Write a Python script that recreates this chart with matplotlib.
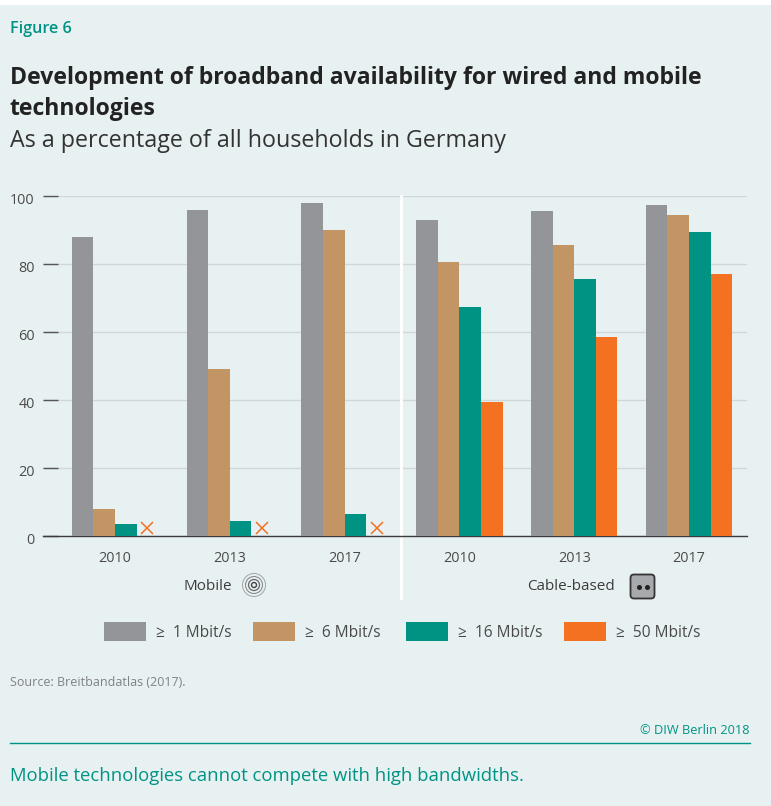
import numpy as np
import matplotlib
matplotlib.use("Agg")
import matplotlib.pyplot as plt
from matplotlib.patches import Rectangle, Circle, FancyBboxPatch
from matplotlib.transforms import ScaledTranslation

plt.rcParams["font.family"] = ["Open Sans", "DejaVu Sans"]

years = ["2010", "2013", "2017", "2010", "2013", "2017"]
speed_labels = ["≥  1 Mbit/s", "≥  6 Mbit/s", "≥  16 Mbit/s", "≥  50 Mbit/s"]
gray_vals = [88, 96, 98, 93, 95.5, 97.5]
tan_vals = [8, 49, 90, 80.5, 85.5, 94.5]
teal_vals = [3.5, 4.5, 6.5, 67.5, 75.5, 89.5]
orange_vals = [np.nan, np.nan, np.nan, 39.5, 58.5, 77]
colors = ["#939598", "#c49564", "#009384", "#f47121"]
yticks = [0, 20, 40, 60, 80, 100]

BG = "#e8f1f2"
TEAL = "#009384"
W, H = 771, 806

fig = plt.figure(figsize=(W / 100, H / 100), dpi=100, facecolor=BG)

# overlay in pixel coordinates for the page furniture
page = fig.add_axes([0, 0, 1, 1], zorder=3)
page.set_xlim(0, W)
page.set_ylim(H, 0)
page.axis("off")
page.patch.set_alpha(0)

ax = fig.add_axes([43 / W, 1 - 536 / H, (747 - 43) / W, 340 / H], zorder=1)
ax.patch.set_alpha(0)

x = np.arange(6)
width = 0.188
series = [gray_vals, tan_vals, teal_vals, orange_vals]
for i, vals in enumerate(series):
    ax.bar(x + (i - 1.5) * width, vals, width, color=colors[i], zorder=3, linewidth=0)

# no data for mobile at 50 Mbit/s
ax.plot(x[:3] + 1.5 * width, [2.4] * 3, "x", color=colors[3], markersize=9,
        markeredgewidth=1.1, zorder=3, clip_on=False)

ax.set_xlim(-0.627, 5.505)
ax.set_ylim(0, 100)
ax.set_yticks(yticks)
ax.set_xticks(x)
ax.set_xticklabels(years)
ax.grid(axis="y", color="#d0d7d9", linewidth=1.0, zorder=0)
ax.set_axisbelow(True)
for side in ["top", "left", "right"]:
    ax.spines[side].set_visible(False)
ax.spines["bottom"].set_color("#3c3c3c")
ax.spines["bottom"].set_linewidth(1.0)
ax.tick_params(axis="y", direction="in", length=11, width=1.0, color="#555555", pad=6,
               labelsize=10.4, labelcolor="#4a4a4a")
ax.tick_params(axis="x", length=0, pad=11, labelsize=10.4, labelcolor="#4a4a4a")
down = ScaledTranslation(0, -2.5 / 100, fig.dpi_scale_trans)
for lab in ax.get_yticklabels():
    lab.set_transform(lab.get_transform() + down)

# white divider between mobile and cable, the axis line runs over it
ax.axvline(2.495, ymin=-0.182, ymax=1, color="white", linewidth=2, clip_on=False, zorder=1)

# texts
page.add_patch(Rectangle((0, 0), W, 5, color="white", linewidth=0))
page.text(10, 29, "Figure 6", color=TEAL, fontsize=11.6, va="center", weight="semibold")
page.text(10, 78, "Development of broadband availability for wired and mobile",
          color="#222222", fontsize=16.55, weight="bold", va="center")
page.text(10, 109, "technologies", color="#222222", fontsize=16.55, weight="bold", va="center")
page.text(10, 141, "As a percentage of all households in Germany", color="#333333",
          fontsize=16.75, va="center")
page.text(232, 587, "Mobile", color="#3c3c3c", fontsize=11, va="center", ha="right")
page.text(615, 587, "Cable-based", color="#3c3c3c", fontsize=11, va="center", ha="right")

# mobile icon
for r, lw, col in [(11.5, 0.7, "#a0a4a6"), (8.5, 0.8, "#8a8d90"), (5.5, 0.9, "#666666"), (2.5, 1.0, "#444444")]:
    page.add_patch(Circle((254, 585), r, fill=False, edgecolor=col, linewidth=lw))

# cable icon
page.add_patch(FancyBboxPatch((630.5, 574.5), 24, 24, boxstyle="round,pad=0,rounding_size=3.5",
                              facecolor="#a7a9ac", edgecolor="#333333", linewidth=1.3))
page.plot([638.7, 647.3], [586.5, 586.5], "o", color="#222222", markersize=2.6)

# legend
legend_x = [104, 253, 406, 564]
for lx, col, lab in zip(legend_x, colors, speed_labels):
    page.add_patch(Rectangle((lx, 622), 42, 19, facecolor=col, linewidth=0))
    page.text(lx + 52, 633, lab, color="#4a4a4a", fontsize=11.2, va="center")

page.text(10, 683, "Source: Breitbandatlas (2017).", color="#808285", fontsize=9,
          va="center")
page.text(750, 730, "© DIW Berlin 2018", color=TEAL, fontsize=9.2, va="center", ha="right")
page.plot([10, 750], [742.5, 742.5], color=TEAL, linewidth=1)
page.text(10, 776, "Mobile technologies cannot compete with high bandwidths.", color=TEAL,
          fontsize=13.3, va="center")

fig.savefig("out.png", dpi=100, facecolor=fig.get_facecolor())
